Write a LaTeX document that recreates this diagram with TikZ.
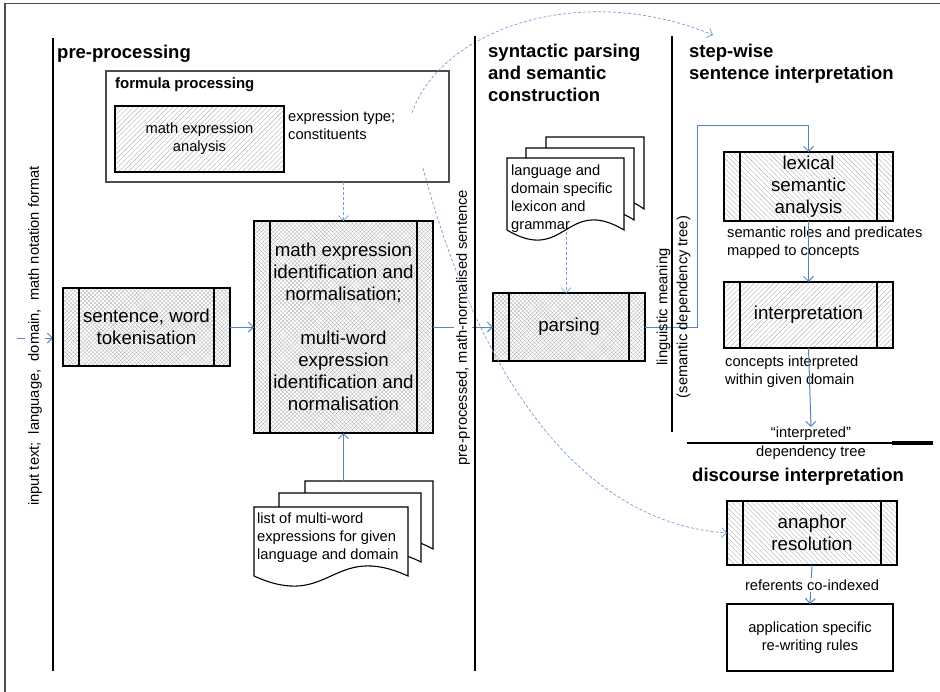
\documentclass[tikz,border=0pt]{standalone}
\usepackage{fontspec}
\setmainfont{Liberation Sans}
\usetikzlibrary{arrows.meta,patterns.meta,calc}
\definecolor{conn}{RGB}{84,132,196}
\definecolor{dconn}{RGB}{118,156,214}
\definecolor{hatchc}{RGB}{178,178,178}
\newcommand\fbig{\fontsize{18.7}{22}\selectfont}
\newcommand\fsmall{\fontsize{14.7}{18}\selectfont}
\newcommand\ftitle{\fontsize{18.5}{22}\selectfont\bfseries}
\newcommand\fsub{\fontsize{15}{18}\selectfont\bfseries}
\newcommand\ml[2]{\begin{tabular}[t]{@{}#1@{}}#2\end{tabular}}
\newcommand\sidebars[1]{\draw[boxline] ([xshift=16pt]#1.north west) -- ([xshift=16pt]#1.south west) ([xshift=-16pt]#1.north east) -- ([xshift=-16pt]#1.south east);}
\newcommand\docpage[4]{\filldraw[docline, fill=white] (#1,#2) -- (#3,#2) -- (#3,#4) .. controls ({(#1+#3)/2},#4-35) and ({(#1+#3)/2},#4+35) .. (#1,#4) -- cycle;}
\begin{document}
\begin{tikzpicture}[x=1pt,y=-1pt,
  pbox/.style={draw=black, line width=1.2pt, outer sep=0pt, inner sep=0pt, align=center, font=\fbig},
  boxline/.style={draw=black, line width=1.2pt},
  docline/.style={draw=black, line width=1.1pt},
  xhatch/.style={pattern={Hatch[angle=45,distance=2.8pt,line width=0.3pt]}, pattern color=hatchc},
  lnE/.style={pattern={Lines[angle=45,distance=3.5pt,line width=0.4pt]}, pattern color=hatchc},
  lnW/.style={pattern={Lines[angle=-45,distance=3.5pt,line width=0.4pt]}, pattern color=hatchc},
  arr/.style={draw=conn, line width=1pt, -{Straight Barb[length=5pt,width=10pt]}},
  darr/.style={draw=dconn, line width=0.7pt, dash pattern=on 3pt off 2pt, -{Straight Barb[length=5pt,width=10pt]}},
  lane/.style={line width=2.5pt, draw=black},
  frameline/.style={line width=1.5pt, draw=black!70},
  txt/.style={inner sep=0pt, font=\fsmall},
  ttl/.style={inner sep=0pt, font=\ftitle},
  subttl/.style={inner sep=0pt, font=\fsub}]
\useasboundingbox (0,0) rectangle (940,691);
\draw[frameline] (5,700) -- (5,3.5) -- (950,3.5);

% titles
\node[ttl, anchor=base west] (tpre) at (57,58) {pre-processing};
\node[ttl, anchor=base west] (tsyn) at (488,57.5) {\ml{l}{syntactic parsing\\and semantic\\construction}};
\node[ttl, anchor=base west] (tstep) at (689,57.5) {\ml{l}{step-wise\\sentence interpretation}};
\node[ttl, anchor=base west] (tdis) at (692,481) {discourse interpretation};

% formula processing
\node[draw=black!70, line width=1.3pt, minimum width=343, minimum height=111, outer sep=0pt] (fp) at (277.5,126.5) {};
\node[subttl, anchor=base west] (fpt) at (115,88) {formula processing};
\node[pbox, lnE, font=\fsmall, minimum width=169, minimum height=66] (mea) at (199.5,139) {math expression\\analysis};
\node[txt, anchor=base west] (etype) at (288,121) {\ml{l}{expression type;\\constituents}};

% process boxes
\node[pbox, xhatch, minimum width=167, minimum height=78] (tok) at (146.5,327) {sentence, word\\tokenisation};
\sidebars{tok}
\node[pbox, xhatch, minimum width=179, minimum height=212] (big) at (343.5,327) {math expression\\identification and\\normalisation;\\[22pt]multi-word\\expression\\identification and\\normalisation};
\sidebars{big}
\node[pbox, xhatch, minimum width=152, minimum height=68] (parse) at (569,327) {parsing};
\sidebars{parse}
\node[pbox, lnW, minimum width=169, minimum height=69] (lex) at (808.5,186.5) {lexical\\semantic\\analysis};
\sidebars{lex}
\node[pbox, lnE, minimum width=169, minimum height=66] (interp) at (808.5,315) {interpretation};
\sidebars{interp}
\node[pbox, lnW, minimum width=170, minimum height=64] (ana) at (812,533) {anaphor\\resolution};
\sidebars{ana}
\node[pbox, fill=white, font=\fsmall, minimum width=166, minimum height=67] (app) at (810,637.5) {application specific\\re-writing rules};

% documents
\docpage{546}{137}{644}{209}
\docpage{526}{148}{634}{220}
\docpage{507}{158}{624}{230}
\node[txt, anchor=base west] (lexdoc) at (511,175) {\ml{l}{language and\\domain specific\\lexicon and\\grammar}};
\docpage{305}{481}{433}{549}
\docpage{279}{493}{421}{562}
\docpage{254}{507}{408}{576}
\node[txt, anchor=base west] (listdoc) at (257,523) {\ml{l}{list of multi-word\\expressions for given\\language and domain}};

% text labels
\node[txt, anchor=base west] (srl) at (727,237) {\ml{l}{semantic roles and predicates\\mapped to concepts}};
\node[txt, anchor=base west] (cid) at (725,366) {\ml{l}{concepts interpreted\\within given domain}};
\node[txt, anchor=north, align=center, font=\fontsize{14.7}{19}\selectfont] (tree) at (811,427) {“interpreted”\\dependency tree};

% coordinates
\coordinate (listtop) at (343.5,481);
\coordinate (lexbot) at (566,232);
\coordinate (in0) at (17,338);
\coordinate (in1) at (53,338);
\coordinate (bend) at (697,125);
\coordinate (c1s) at (412,113);
\coordinate (c1e) at (713,35);
\coordinate (c2s) at (423,168);

% connectors
\draw[arr] (in0) -- (in1);
\node[txt, rotate=90, fill=white, inner sep=3pt] (inlbl) at (35,336) {input text;\ \ language,\ \ domain,\ \ math notation format};
\draw[arr] (tok.east) -- (big.west);
\draw[arr] (big.east) -- (parse.west);
\node[txt, rotate=90, fill=white, inner sep=2.5pt] (pplbl) at (463,327.5) {pre-processed, math-normalised sentence};
\draw[darr] (fp.south -| big.north) -- (big.north);
\draw[darr] (lexbot) -- (lexbot |- parse.north);
\draw[arr] (listtop) -- (big.south);
\draw[arr] (parse.east) -- (parse.east -| bend) -- (bend) -- (bend -| lex.north) -- (lex.north);
\node[txt, rotate=90, align=center, font=\fontsize{14.7}{20}\selectfont] (lmlbl) at (673.5,307) {linguistic meaning\\(semantic dependency tree)};
\draw[arr] (lex.south) -- (interp.north);
\draw[arr] (interp.south) -- (tree.north);
\draw[arr] (ana.south) -- (app.north);
\node[txt, fill=white, inner sep=1.5pt] (refc) at (812,585) {referents co-indexed};
\draw[darr] (c1s) .. controls (440,30) and (580,-20) .. (c1e);
\draw[darr] (c2s) .. controls (455,290) and (540,520) .. (ana.west);

% swimlane lines
\draw[lane] (53,38) -- (53,671);
\draw[lane] (475,36) -- (475,671);
\draw[lane] (672,36) -- (672,432);
\draw[line width=2pt] (687,443) -- (933,443);
\draw[line width=3.5pt] (892,443) -- (933,443);
\end{tikzpicture}
\end{document}
